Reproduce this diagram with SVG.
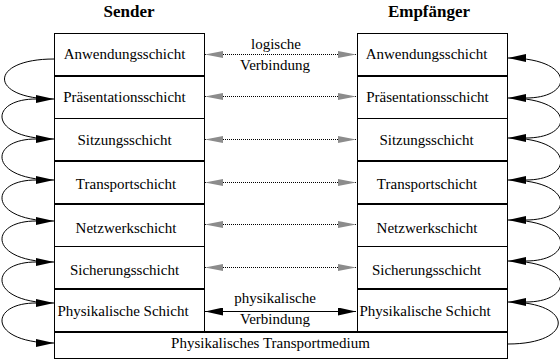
<svg xmlns="http://www.w3.org/2000/svg" width="560" height="360" viewBox="0 0 560 360">
<style>
.box{fill:#fff;stroke:#000;stroke-width:1}
.thick{stroke:#000;stroke-width:2}
.lbl{font-family:'Liberation Serif','Times New Roman','DejaVu Serif',serif;font-size:15px;text-anchor:middle;fill:#000}
.hdr{font-weight:bold;font-size:17px}
.loop{fill:none;stroke:#000;stroke-width:1;marker-end:url(#ah)}
.logic{fill:none;stroke:#000;stroke-width:1;stroke-dasharray:1 1;marker-start:url(#gh);marker-end:url(#gh)}
.phys{fill:none;stroke:#000;stroke-width:1;marker-start:url(#ah);marker-end:url(#ah)}
</style>
<defs>
<marker id="ah" markerUnits="userSpaceOnUse" viewBox="0 0 18 8" markerWidth="18" markerHeight="8" refX="18" refY="4" orient="auto-start-reverse">
<path d="M0,0 L18,4 L0,8 z" fill="#000"/>
</marker>
<marker id="gh" markerUnits="userSpaceOnUse" viewBox="0 0 18 8" markerWidth="18" markerHeight="8" refX="18" refY="4" orient="auto-start-reverse">
<path d="M0,0.5 L18,4 L0,7.5 z" fill="#8c8c8c"/>
</marker>
</defs>
<rect width="560" height="360" fill="#fff"/>

<g id="sender-header"><text class="lbl hdr" x="129" y="17" font-family="Liberation Serif, serif">Sender</text></g>
<g id="receiver-header"><text class="lbl hdr" x="429" y="17" font-family="Liberation Serif, serif">Empfänger</text></g>

<g id="s-anwendung"><rect class="box" x="54.5" y="33.5" width="150" height="42.5"/><text class="lbl" x="124.5" y="59">Anwendungsschicht</text></g>
<g id="s-praesentation"><rect class="box" x="54.5" y="76" width="150" height="42.5"/><line class="thick" x1="54" y1="76" x2="205" y2="76"/><text class="lbl" x="124.5" y="102">Präsentationsschicht</text></g>
<g id="s-sitzung"><rect class="box" x="54.5" y="118.5" width="150" height="42.5"/><text class="lbl" x="124.5" y="145">Sitzungsschicht</text></g>
<g id="s-transport"><rect class="box" x="54.5" y="161" width="150" height="43"/><line class="thick" x1="54" y1="161" x2="205" y2="161"/><text class="lbl" x="126" y="189">Transportschicht</text></g>
<g id="s-netzwerk"><rect class="box" x="54.5" y="204" width="150" height="42.5"/><line class="thick" x1="54" y1="204" x2="205" y2="204"/><text class="lbl" x="126" y="233">Netzwerkschicht</text></g>
<g id="s-sicherung"><rect class="box" x="54.5" y="246.5" width="150" height="42.5"/><text class="lbl" x="124.5" y="275">Sicherungsschicht</text></g>
<g id="s-physik"><rect class="box" x="54.5" y="289" width="150" height="43"/><line class="thick" x1="54" y1="289" x2="205" y2="289"/><text class="lbl" x="123" y="316">Physikalische Schicht</text></g>

<g id="e-anwendung"><rect class="box" x="357.5" y="33.5" width="150" height="42.5"/><text class="lbl" x="426.5" y="59">Anwendungsschicht</text></g>
<g id="e-praesentation"><rect class="box" x="357.5" y="76" width="150" height="42.5"/><line class="thick" x1="357" y1="76" x2="508" y2="76"/><text class="lbl" x="427.5" y="102">Präsentationsschicht</text></g>
<g id="e-sitzung"><rect class="box" x="357.5" y="118.5" width="150" height="42.5"/><text class="lbl" x="426.5" y="145">Sitzungsschicht</text></g>
<g id="e-transport"><rect class="box" x="357.5" y="161" width="150" height="43"/><line class="thick" x1="357" y1="161" x2="508" y2="161"/><text class="lbl" x="427" y="189">Transportschicht</text></g>
<g id="e-netzwerk"><rect class="box" x="357.5" y="204" width="150" height="42.5"/><line class="thick" x1="357" y1="204" x2="508" y2="204"/><text class="lbl" x="427" y="233">Netzwerkschicht</text></g>
<g id="e-sicherung"><rect class="box" x="357.5" y="246.5" width="150" height="42.5"/><text class="lbl" x="426.5" y="275">Sicherungsschicht</text></g>
<g id="e-physik"><rect class="box" x="357.5" y="289" width="150" height="43"/><line class="thick" x1="357" y1="289" x2="508" y2="289"/><text class="lbl" x="425" y="316">Physikalische Schicht</text></g>

<g id="medium"><rect class="box" x="54.5" y="332" width="453" height="26.5"/><line class="thick" x1="54" y1="332" x2="508" y2="332"/><text class="lbl" x="270.5" y="348">Physikalisches Transportmedium</text></g>

<g id="connectors">
<path class="loop" d="M54,59 C-12,59 -12,99 54,99"/>
<path class="loop" d="M36,99 C-12,99 -12,139 54,139"/>
<path class="loop" d="M36,139 C-12,139 -12,180 54,180"/>
<path class="loop" d="M36,180 C-12,180 -12,221 54,221"/>
<path class="loop" d="M36,221 C-12,221 -12,262 54,262"/>
<path class="loop" d="M36,262 C-12,262 -12,303 54,303"/>
<path class="loop" d="M36,303 C-12,303 -12,343 54,343"/>

<path class="loop" d="M508,344 C575,344 575,302 508,302"/>
<path class="loop" d="M526,302 C575,302 575,261 508,261"/>
<path class="loop" d="M526,261 C575,261 575,220 508,220"/>
<path class="loop" d="M526,220 C575,220 575,180 508,180"/>
<path class="loop" d="M526,180 C575,180 575,138 508,138"/>
<path class="loop" d="M526,138 C575,138 575,98 508,98"/>
<path class="loop" d="M526,98 C575,98 575,58 508,58"/>

<path class="logic" d="M205,54.5 H356"/>
<path class="logic" d="M205,96.5 H356"/>
<path class="logic" d="M205,139.5 H356"/>
<path class="logic" d="M205,182.5 H356"/>
<path class="logic" d="M205,224.5 H356"/>
<path class="logic" d="M205,267.5 H356"/>
<path class="phys" d="M205,311.5 H356"/>
<text class="lbl" x="276" y="49">logische</text>
<text class="lbl" x="275" y="70">Verbindung</text>
<text class="lbl" x="275" y="303">physikalische</text>
<text class="lbl" x="275" y="324">Verbindung</text>
</g>
</svg>
